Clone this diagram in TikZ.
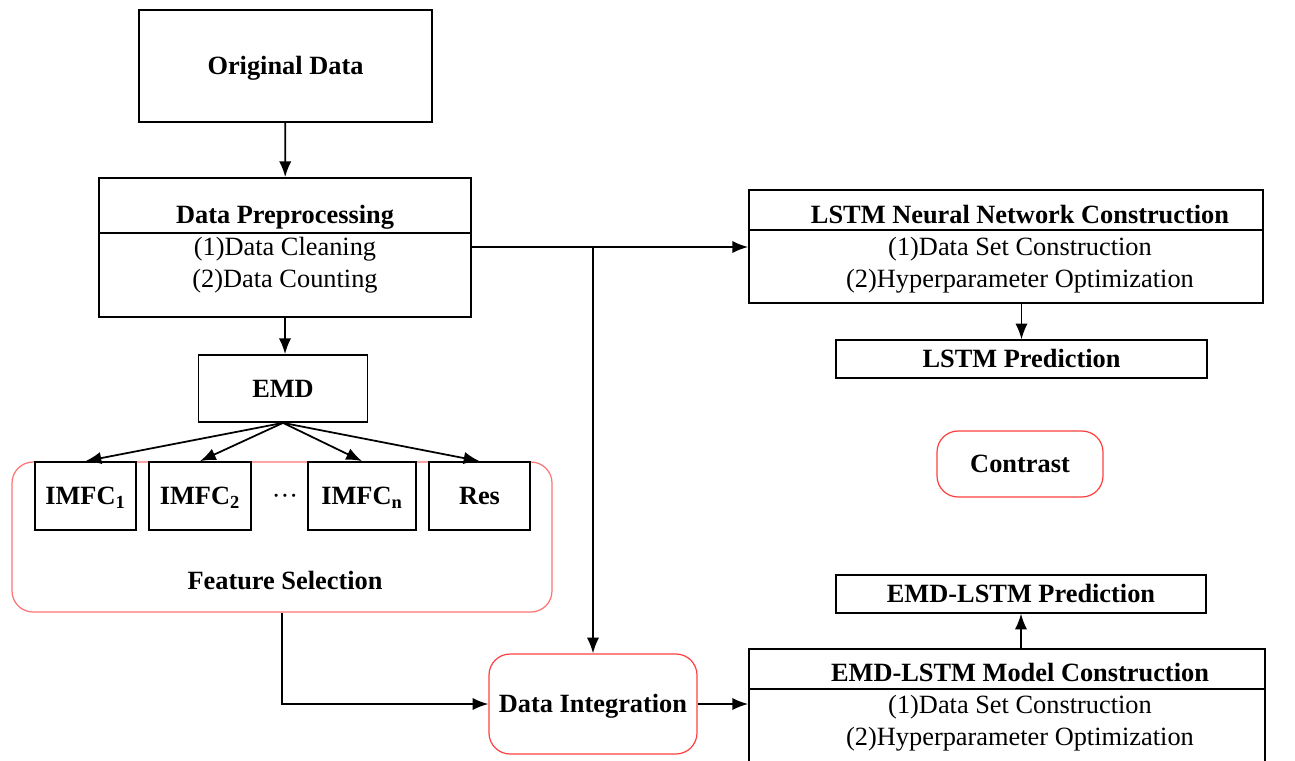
\documentclass[tikz,border=0pt]{standalone}
\usepackage{fontspec}
\setmainfont{Liberation Serif}
\usetikzlibrary{arrows.meta,calc,positioning}

\begin{document}
\begin{tikzpicture}[
    every node/.style={font=\fontsize{15}{18}\selectfont,text height=13pt,text depth=3pt},
    hd/.style={font=\fontsize{15}{18}\selectfont\bfseries},
    blk/.style={draw,line width=1pt,inner sep=0pt},
    rblk/.style={draw=red!75,line width=0.7pt,rounded corners=12pt,inner sep=0pt},
    flow/.style={-{Latex[length=9pt,width=7pt]},line width=1pt}]
%
  \useasboundingbox (0,0) rectangle (25.9,15.2) ;
%
  % left column
  \node [blk,hd,minimum width=5.86cm,minimum height=2.24cm] (orig) at (5.71,13.88) {Original Data} ;
%
  \node [blk,minimum width=7.44cm,minimum height=2.78cm] (dp) at (5.70,10.25) {} ;
  \node [hd] (dptitle) at (5.70,10.90) {Data Preprocessing} ;
  \node (dpa) at (5.70,10.26) {(1)Data Cleaning} ;
  \node (dpb) at (5.70,9.62) {(2)Data Counting} ;
  \draw [line width=1pt] (dp.west |- 0,10.54) -- (dp.east |- 0,10.54) ;
%
  \node [blk,hd,minimum width=3.38cm,minimum height=1.34cm] (emd) at (5.66,7.43) {EMD} ;
%
  \node [rblk,draw=red!55,minimum width=10.8cm,minimum height=3.0cm] (fs) at (5.64,4.46) {} ;
  \node [hd] (fstext) at (5.70,3.58) {Feature Selection} ;
%
  \node [blk,hd,minimum width=2.02cm,minimum height=1.36cm] (imfa) at (1.71,5.28) {IMFC\textsubscript{1}} ;
  \node [blk,hd,minimum width=2.04cm,minimum height=1.36cm] (imfb) at (4.00,5.28) {IMFC\textsubscript{2}} ;
  \node (dots) at (5.70,5.28) {\textperiodcentered\textperiodcentered\textperiodcentered} ;
  \node [blk,hd,minimum width=2.16cm,minimum height=1.36cm] (imfn) at (7.24,5.28) {IMFC\textsubscript{n}} ;
  \node [blk,hd,minimum width=2.02cm,minimum height=1.36cm] (res) at (9.59,5.28) {Res} ;
%
  \node [rblk,hd,minimum width=4.16cm,minimum height=2.0cm] (di) at (11.86,1.12) {Data Integration} ;
%
  % right column
  \node [blk,minimum width=10.28cm,minimum height=2.26cm] (lstm) at (20.12,10.27) {} ;
  \node [hd] (lstmtitle) at (20.40,10.90) {LSTM Neural Network Construction} ;
  \node (lstma) at (20.40,10.26) {(1)Data Set Construction} ;
  \node (lstmb) at (20.40,9.62) {(2)Hyperparameter Optimization} ;
  \draw [line width=1pt] (lstm.west |- 0,10.60) -- (lstm.east |- 0,10.60) ;
%
  \node [blk,hd,minimum width=7.42cm,minimum height=0.76cm,line width=0.7pt] (lstmpred) at (20.43,8.02) {LSTM Prediction} ;
%
  \node [rblk,hd,minimum width=3.32cm,minimum height=1.32cm] (contrast) at (20.40,5.92) {Contrast} ;
%
  \node [blk,hd,minimum width=7.40cm,minimum height=0.76cm,line width=0.7pt] (emdpred) at (20.42,3.32) {EMD-LSTM Prediction} ;
%
  \node [blk,minimum width=10.32cm,minimum height=2.42cm] (model) at (20.14,1.01) {} ;
  \node [hd] (modeltitle) at (20.40,1.74) {EMD-LSTM Model Construction} ;
  \node (modela) at (20.40,1.10) {(1)Data Set Construction} ;
  \node (modelb) at (20.40,0.46) {(2)Hyperparameter Optimization} ;
  \draw [line width=1pt] (model.west |- 0,1.42) -- (model.east |- 0,1.42) ;
%
  % connectors
  \draw [flow] (orig) -- (dp) ;
  \draw [flow] (dp.south) -- (dp.south |- emd.north) ;
  \foreach \t in {imfa,imfb,imfn,res}
    \draw [flow] (emd.south) -- (\t.north) ;
  \draw [flow] (fs.south) |- (di.west) ;
%
  \coordinate (fork) at (di.north |- dpa) ;
  \draw [flow] (dp.east |- fork) -- (lstm.west |- fork) ;
  \draw [flow] (fork) -- (di.north) ;
  \draw [flow] (di.east) -- (model.west |- di.east) ;
%
  \draw [flow] (lstmpred.north |- lstm.south) -- (lstmpred.north) ;
  \draw [flow] (emdpred.south |- model.north) -- (emdpred.south) ;
%
\end{tikzpicture}
\end{document}
